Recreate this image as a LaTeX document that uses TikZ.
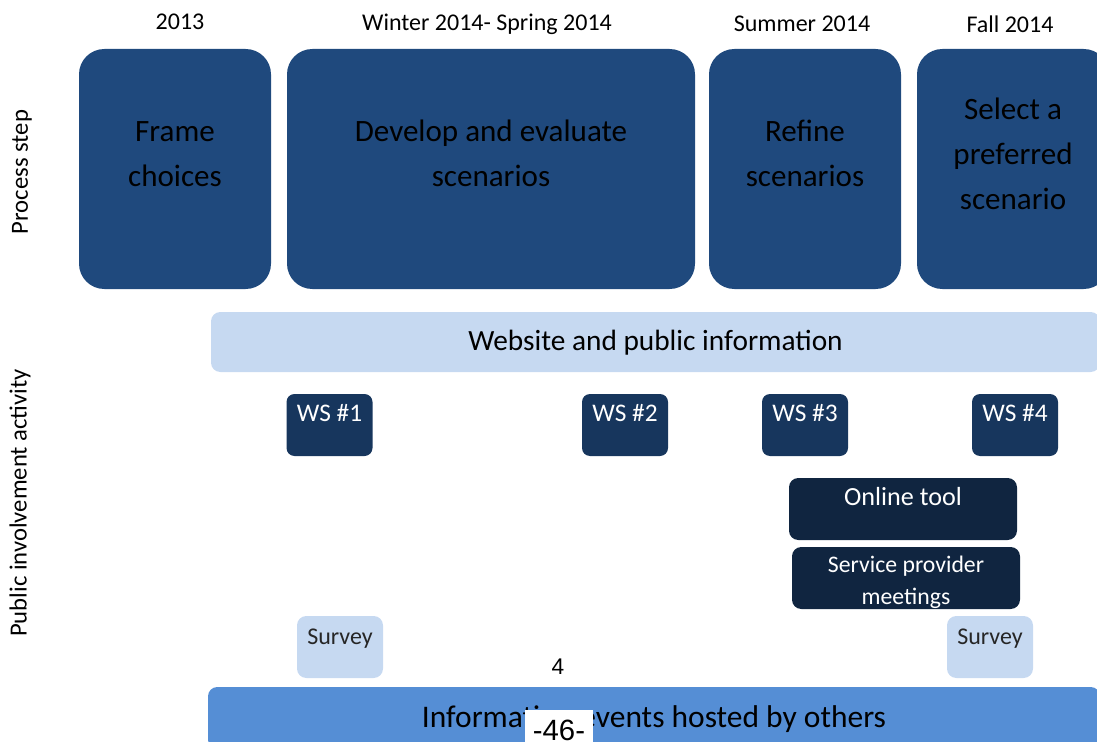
\documentclass[tikz,border=0pt]{standalone}
\usepackage{fontspec}
\setmainfont{Carlito}
\newfontfamily\pagefont{Liberation Sans}
\usetikzlibrary{positioning}
\definecolor{stepblue}{RGB}{31,73,125}
\definecolor{wsblue}{RGB}{23,54,93}
\definecolor{tooldark}{RGB}{16,37,64}
\definecolor{paleblue}{RGB}{198,217,241}
\definecolor{infoblue}{RGB}{85,142,213}
\tikzset{
	stepbox/.style={rectangle, rounded corners=19pt, fill=stepblue, inner sep=0pt, minimum width=144pt, minimum height=180pt},
	steptext/.style={anchor=center, yshift=11.5pt, align=center, text=black, font=\fontsize{23.3}{33.75}\selectfont},
	yearlabel/.style={font=\fontsize{18}{21}\selectfont, text=black},
	sidelabel/.style={rotate=90, font=\fontsize{18.5}{21}\selectfont, text=black},
	% bars across the whole width
	bar/.style={rectangle, rounded corners=7pt, inner sep=0pt, minimum height=45pt, font=\fontsize{22}{26}\selectfont, text=black},
	wsbox/.style={rectangle, rounded corners=6pt, fill=wsblue, inner sep=0pt, minimum width=64.5pt, minimum height=46.5pt},
	toolbox/.style={rectangle, rounded corners=7pt, fill=tooldark, inner sep=0pt, minimum width=171pt, minimum height=46.5pt},
	surveybox/.style={rectangle, rounded corners=7pt, fill=paleblue, inner sep=0pt, minimum width=64.5pt, minimum height=46.5pt},
	boxtext/.style={anchor=center, yshift=9pt, align=center, font=\fontsize{19}{24}\selectfont},
}

\begin{document}
\begin{tikzpicture}[x=0.75pt, y=-0.75pt]
	\clip (0,0) rectangle (1097,742);
	
	\node (frame) [stepbox, label={[steptext]center:Frame\\choices}] at (175,169) {};
	\node (develop) [stepbox, minimum width=306pt, label={[steptext]center:Develop and evaluate\\scenarios}] at (491,169) {};
	\node (refine) [stepbox, label={[steptext]center:Refine\\scenarios}] at (805,169) {};
	\node (select) [stepbox, label={[steptext]center:Select a\\preferred\\scenario}] at (1013,169) {};
	
	\node (y2013) [yearlabel] at (180,22) {2013};
	\node (ywinter) [yearlabel] at (487,24) {Winter 2014- Spring 2014};
	\node (ysummer) [yearlabel] at (802,24) {Summer 2014};
	\node (yfall) [yearlabel] at (1010,24) {Fall 2014};
	
	\node (procstep) [sidelabel] at (22,172) {Process step};
	\node (pubinv) [sidelabel] at (20,503) {Public involvement activity};
	
	\node (website) [bar, fill=paleblue, minimum width=666.75pt, text depth=2pt] at (655.5,342) {Website and public information};
	
	\node (ws1) [wsbox, label={[boxtext, text=white]center:WS \#1}] at (329.5,425) {};
	\node (ws2) [wsbox, label={[boxtext, text=white]center:WS \#2}] at (625,425) {};
	\node (ws3) [wsbox, label={[boxtext, text=white]center:WS \#3}] at (805,425) {};
	\node (ws4) [wsbox, label={[boxtext, text=white]center:WS \#4}] at (1015,425) {};
	
	\node (online) [toolbox, label={[boxtext, text=white, font=\fontsize{19.6}{24}\selectfont]center:Online tool}] at (903,509) {};
	\node (provider) [toolbox, label={[boxtext, yshift=-12pt, text=white, font=\fontsize{17.8}{24}\selectfont]center:Service provider\\meetings}] at (906,578) {};
	
	\node (survey1) [surveybox, label={[boxtext, yshift=-2.5pt, text=black!85, font=\fontsize{18}{24}\selectfont]center:Survey}] at (340,647) {};
	\node (survey2) [surveybox, label={[boxtext, yshift=-2.5pt, text=black!85, font=\fontsize{18}{24}\selectfont]center:Survey}] at (990,647) {};
	
	\node (pagenum) [font=\pagefont\fontsize{17}{20}\selectfont] at (558,667) {4};
	\node (info) [bar, fill=infoblue, minimum width=669pt, minimum height=46.5pt, text depth=2pt, font=\fontsize{23.6}{27}\selectfont] at (654,718) {Information events hosted by others};
	\node (pagefoot) [fill=white, inner sep=0pt, minimum width=51pt, minimum height=30pt, font=\pagefont\fontsize{22}{26}\selectfont] at (559,730) {-46-};
	
\end{tikzpicture}
\end{document}
